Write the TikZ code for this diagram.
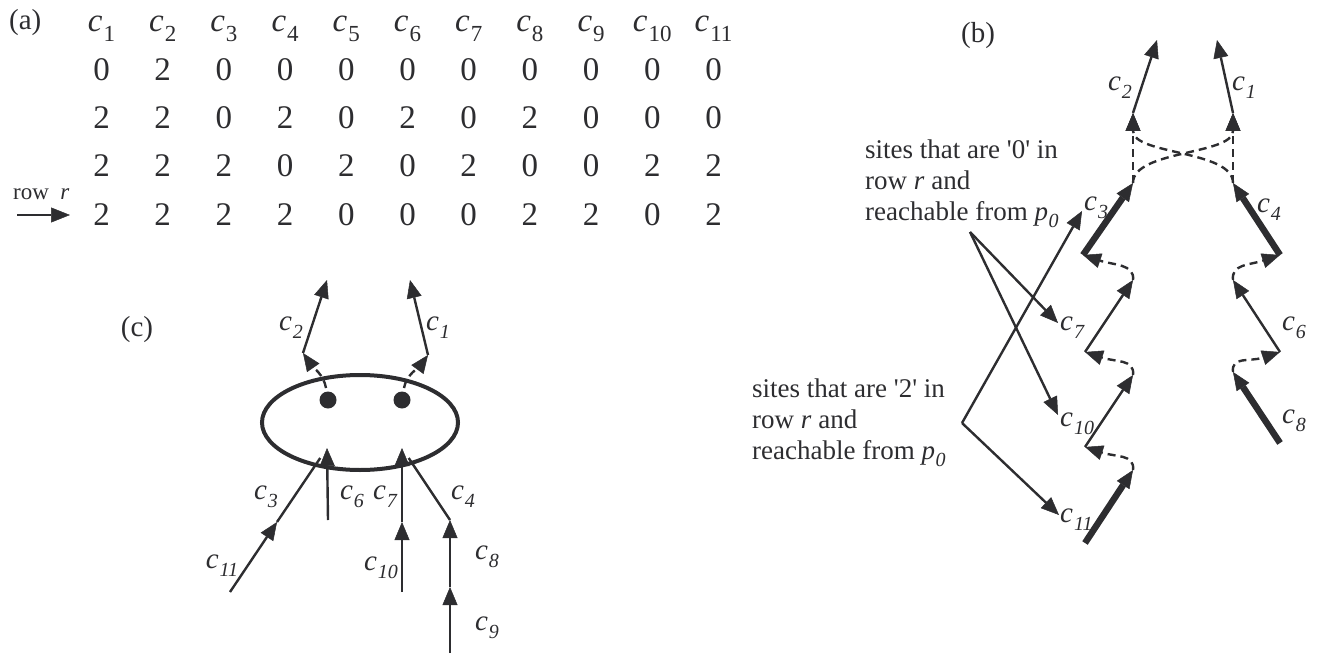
\documentclass[tikz,border=0pt]{standalone}
\usepackage{fontspec}
\setmainfont{Liberation Serif}
\usetikzlibrary{arrows.meta,shapes.geometric}
\definecolor{ink}{RGB}{45,45,48}
\font\sqfont="Liberation Serif" at 27pt
\newcommand\sq{{\sqfont\char"27}}
\newcommand\hc[1]{\textit{c}\kern1pt\raisebox{-0.28em}{\fontsize{23}{23}\selectfont #1}}
\newcommand\lc[1]{\textit{c\kern1pt\raisebox{-0.28em}{\fontsize{20}{20}\selectfont #1}}}
\newcommand\pz{\textit{p\kern0.5pt\raisebox{-0.25em}{\fontsize{20}{20}\selectfont 0}}}
\begin{document}
\begin{tikzpicture}[x=1pt,y=-1pt,
  every node/.style={inner sep=0pt,text=ink},
  tip/.style={-{Triangle[length=18pt,width=15pt,line width=0.5pt]}},
  edge/.style={draw=ink,line width=2.4pt},
  thickedge/.style={draw=ink,line width=6.5pt},
  dashedge/.style={draw=ink,line width=2.4pt,dash pattern=on 8pt off 5pt},
  mat/.style={font=\fontsize{33}{38}\selectfont},
  lab/.style={font=\fontsize{29}{32}\selectfont},
  tag/.style={font=\fontsize{29}{32}\selectfont},
  note/.style={font=\fontsize{27}{31}\selectfont,align=left,anchor=north west},
  dot/.style={circle,fill=ink,minimum size=17pt}
]
\useasboundingbox (0,0) rectangle (1321,655);

% ---------------- (a) ----------------
\node[tag,anchor=base west] (alab) at (9,30) {(a)};
\foreach \i in {1,...,11}
  \node[mat,anchor=base] (h\i) at ({101.5+61.2*(\i-1)},32) {\hc{\i}};
\foreach \v [count=\i] in {0,2,0,0,0,0,0,0,0,0,0}
  \node[mat,anchor=base] (ra\i) at ({101.5+61.2*(\i-1)},81) {\v};
\foreach \v [count=\i] in {2,2,0,2,0,2,0,2,0,0,0}
  \node[mat,anchor=base] (rb\i) at ({101.5+61.2*(\i-1)},129) {\v};
\foreach \v [count=\i] in {2,2,2,0,2,0,2,0,0,2,2}
  \node[mat,anchor=base] (rc\i) at ({101.5+61.2*(\i-1)},177) {\v};
\foreach \v [count=\i] in {2,2,2,2,0,0,0,2,2,0,2}
  \node[mat,anchor=base] (rd\i) at ({101.5+61.2*(\i-1)},225) {\v};
\node[font=\fontsize{23}{25}\selectfont,anchor=base west] (rowr) at (13,200) {row\enspace\textit{r}};
\coordinate (rwa) at (17,215);
\coordinate (rwb) at (70,215);
\draw[edge,line width=2.8pt,-{Triangle[length=19pt,width=15pt,line width=0.5pt]}] (rwa) -- (rwb);

% ---------------- (c) ----------------
\node[tag] (clab) at (137,330) {(c)};
\node[draw=ink,line width=4pt,ellipse,minimum width=196pt,minimum height=95pt] (ell) at (360,422.5) {};
\node[dot] (dot1) at (328,400) {};
\node[dot] (dot2) at (402,400) {};
\coordinate (S2) at (303,353);
\coordinate (T2) at (327,280);
\coordinate (S1) at (428,355);
\coordinate (T1) at (410,280);
\coordinate (D1) at (326,388);
\coordinate (D2) at (404,388);
\coordinate (E3) at (327,448);
\coordinate (E7) at (402,448);
\coordinate (P11) at (230,592);
\coordinate (P3) at (277,522);
\coordinate (P6) at (328,520);
\coordinate (P10) at (402,592);
\coordinate (P7) at (402,522);
\coordinate (P4) at (450,520);
\coordinate (P9) at (450,653);
\coordinate (P8) at (450,587);
\draw[edge,tip] (S2) -- (T2);
\draw[edge,tip] (S1) -- (T1);
\draw[dashedge,tip] (D1) .. controls (324,375) and (312,366) .. (S2);
\draw[dashedge,tip] (D2) .. controls (406,375) and (420,366) .. (S1);
\draw[edge,tip] (P11) -- (P3);
\draw[edge,shorten >=12pt] (P3) -- (E3);
\draw[edge,tip] (P6) -- (E3);
\draw[edge,tip] (P10) -- (P7);
\draw[edge,tip] (P7) -- (E7);
\draw[edge,shorten >=12pt] (P4) -- (E7);
\draw[edge,tip] (P9) -- (P8);
\draw[edge,tip] (P8) -- (P4);
\node[lab] (lc2) at (291,328) {\lc{2}};
\node[lab] (lc1) at (438,328) {\lc{1}};
\node[lab] (lc3) at (266,497) {\lc{3}};
\node[lab] (lc6) at (352,497) {\lc{6}};
\node[lab] (lc7) at (385,497) {\lc{7}};
\node[lab] (lc4) at (463,497) {\lc{4}};
\node[lab] (lc11) at (222,566) {\lc{11}};
\node[lab] (lc10) at (381,568) {\lc{10}};
\node[lab] (lc8) at (487,557) {\lc{8}};
\node[lab] (lc9) at (487,628) {\lc{9}};

% ---------------- (b) ----------------
\node[tag] (blab) at (978,36) {(b)};
\coordinate (bT2) at (1157,40);
\coordinate (bB2) at (1133,113);
\coordinate (bT1) at (1217,40);
\coordinate (bB1) at (1233,113);
\coordinate (A3) at (1133,183);
\coordinate (A4) at (1233,183);
\coordinate (S3) at (1083,255);
\coordinate (S4) at (1280,255);
\coordinate (A7) at (1133,280);
\coordinate (S7) at (1085,352);
\coordinate (A10) at (1133,375);
\coordinate (S10) at (1085,447);
\coordinate (A11) at (1133,470);
\coordinate (S11) at (1085,543);
\coordinate (A6) at (1233,280);
\coordinate (S6) at (1280,352);
\coordinate (A8) at (1233,372);
\coordinate (S8) at (1280,443);
\draw[edge,tip] (bB2) -- (bT2);
\draw[edge,tip] (bB1) -- (bT1);
\draw[dashedge,tip] (A3) -- (bB2);
\draw[dashedge,tip] (A4) -- (bB1);
\draw[dashedge,tip] (A3) .. controls (1133,150) and (1233,155) .. (bB1);
\draw[dashedge,tip] (A4) .. controls (1233,150) and (1133,155) .. (bB2);
\draw[thickedge,tip] (S3) -- (A3);
\draw[thickedge,tip] (S4) -- (A4);
\draw[thickedge,tip] (S11) -- (A11);
\draw[thickedge,tip] (S8) -- (A8);
\draw[edge,tip] (S7) -- (A7);
\draw[edge,tip] (S10) -- (A10);
\draw[edge,tip] (S6) -- (A6);
\draw[dashedge,tip] (A7) .. controls +(2,-16) and +(30,10) .. (S3);
\draw[dashedge,tip] (A10) .. controls +(2,-16) and +(30,10) .. (S7);
\draw[dashedge,tip] (A11) .. controls +(2,-16) and +(30,10) .. (S10);
\draw[dashedge,tip] (A6) .. controls +(-2,-16) and +(-30,10) .. (S4);
\draw[dashedge,tip] (A8) .. controls +(-2,-16) and +(-30,10) .. (S6);
\node[lab] (lb2) at (1120,88) {\lc{2}};
\node[lab] (lb1) at (1244,88) {\lc{1}};
\node[lab,anchor=west] (lb3) at (1084,208) {\lc{3}};
\node[lab] (lb4) at (1269,210) {\lc{4}};
\node[lab,anchor=west] (lb7) at (1060,328) {\lc{7}};
\node[lab,anchor=west] (lb10) at (1060,424) {\lc{10}};
\node[lab,anchor=west] (lb11) at (1060,520) {\lc{11}};
\node[lab] (lb6) at (1294,328) {\lc{6}};
\node[lab] (lb8) at (1294,421) {\lc{8}};

\node[note] (note0) at (865,140) {sites that are \sq0\sq{} in\\row \textit{r} and\\reachable from \pz};
\node[note] (note2) at (752,379) {sites that are \sq2\sq{} in\\row \textit{r} and\\reachable from \pz};
\coordinate (V0) at (970,232);
\coordinate (V2) at (962,423);
\coordinate (N7) at (1058,323);
\coordinate (N10) at (1058,415);
\coordinate (N3) at (1082,211);
\coordinate (N11) at (1059,515);
\draw[edge,tip] (V0) -- (N7);
\draw[edge,tip] (V0) -- (N10);
\draw[edge,tip] (V2) -- (N3);
\draw[edge,tip] (V2) -- (N11);
\end{tikzpicture}
\end{document}
